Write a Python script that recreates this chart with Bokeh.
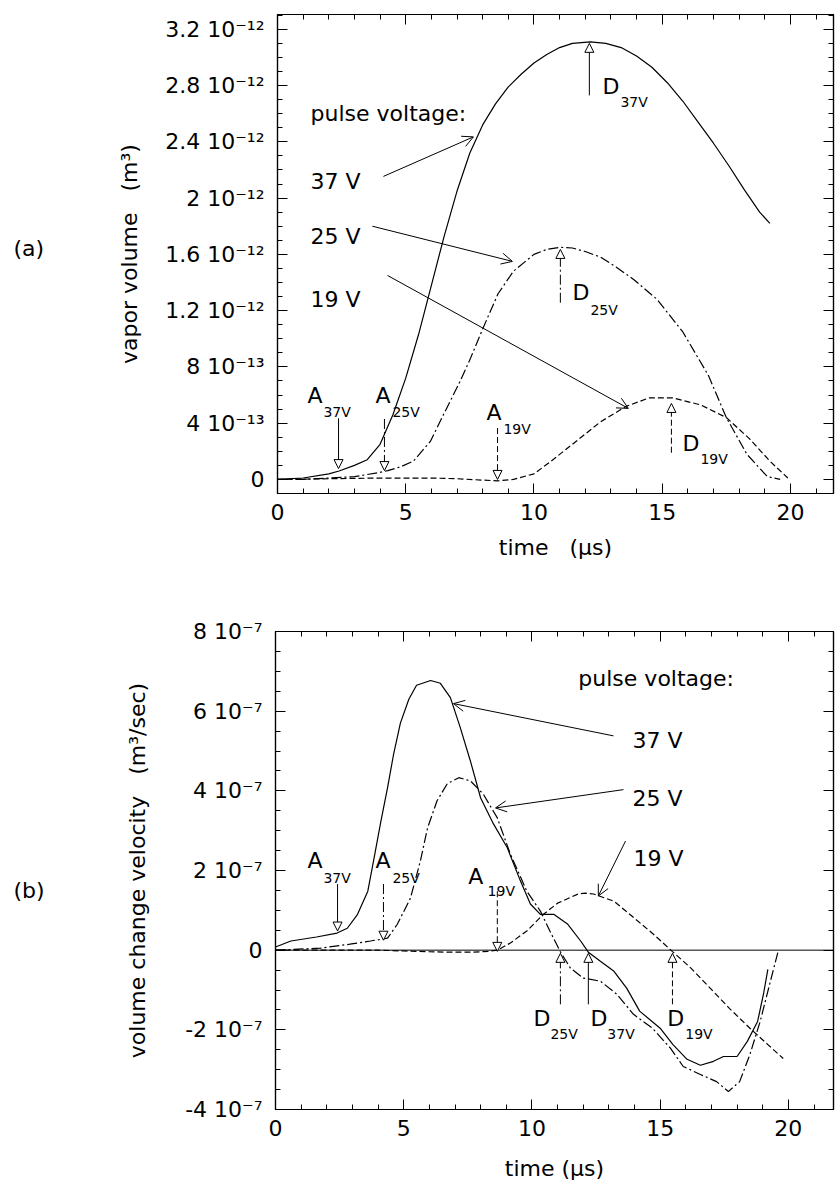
from bokeh.plotting import figure
from bokeh.models import (Label, Arrow, NormalHead, OpenHead, Span, LinearAxis,
                          SingleIntervalTicker, CustomJSTickFormatter, Range1d)
from bokeh.layouts import column, row
from bokeh.core.properties import value
from bokeh.embed import file_html
from bokeh.resources import INLINE

FONT = "DejaVu Sans"

# ---------------- data: panel (a) vapor volume, units of 1e-12 m^3 ----------------
t37_a = [0, 1, 2, 2.4, 3, 3.5, 4, 4.5, 5, 5.5, 6, 6.5, 7, 7.5, 8, 8.5, 9, 9.5, 10,
         10.5, 11, 11.5, 12.2, 12.8, 13.4, 14, 14.6, 15.2, 15.8, 16.4, 17, 17.6, 18.2,
         18.8, 19.2]
v37_a = [0.0, 0.01, 0.04, 0.06, 0.10, 0.14, 0.25, 0.46, 0.72, 1.03, 1.38, 1.73, 2.05,
         2.32, 2.52, 2.67, 2.79, 2.88, 2.96, 3.02, 3.07, 3.10, 3.11, 3.10, 3.07, 3.01,
         2.93, 2.82, 2.69, 2.54, 2.39, 2.23, 2.06, 1.90, 1.82]
t25_a = [0, 1, 2, 3, 4, 4.3, 4.8, 5.3, 5.96, 6.47, 7.1, 7.5, 8, 8.6, 9.2, 10, 10.5, 11,
         11.5, 12, 12.6, 13.2, 13.9, 14.8, 15.8, 16.8, 17.5, 18.3, 19.1, 19.6]
v25_a = [0.0, 0.0, 0.01, 0.02, 0.05, 0.063, 0.09, 0.13, 0.27, 0.46, 0.69, 0.85, 1.07,
         1.32, 1.48, 1.60, 1.635, 1.65, 1.645, 1.62, 1.58, 1.51, 1.42, 1.28, 1.05, 0.74,
         0.44, 0.18, 0.02, 0.0]
t19_a = [0, 2, 4, 6, 7, 8, 8.6, 9.2, 10, 10.6, 11.5, 12.6, 13.6, 14.5, 15.4, 16.5,
         17.5, 18.4, 19.2, 19.9]
v19_a = [0.0, 0.005, 0.01, 0.01, 0.005, -0.005, -0.01, 0.0, 0.04, 0.12, 0.25, 0.41,
         0.52, 0.58, 0.58, 0.53, 0.44, 0.29, 0.13, 0.01]

# ---------------- data: panel (b) volume change velocity, units of 1e-7 m^3/s ----------------
t37_b = [0, 0.6, 1.6, 2.4, 2.8, 3.2, 3.6, 3.84, 4.1, 4.37, 4.6, 4.87, 5.2, 5.5, 6.05,
         6.43, 6.82, 7.2, 7.6, 8.0, 8.5, 9.04, 9.55, 9.94, 10.33, 10.85, 11.4, 11.9,
         12.2, 12.67, 13.2, 13.7, 14.2, 15.0, 15.5, 16.05, 16.57, 17.08, 17.47, 18.0,
         18.4, 18.8, 19.03, 19.2]
v37_b = [0.08, 0.23, 0.33, 0.43, 0.55, 0.9, 1.48, 2.3, 3.2, 4.08, 4.9, 5.7, 6.3, 6.65,
         6.77, 6.7, 6.34, 5.6, 4.75, 3.82, 3.17, 2.57, 1.74, 1.16, 0.9, 0.9, 0.65, 0.23,
         -0.05, -0.28, -0.53, -0.96, -1.53, -1.96, -2.37, -2.74, -2.89, -2.79, -2.67,
         -2.67, -2.29, -1.79, -1.1, -0.48]
t25_b = [0, 1.75, 2.9, 3.7, 4.37, 4.75, 5.26, 5.65, 5.93, 6.3, 6.7, 7.15, 7.6, 8.1, 8.65,
         9.16, 9.8, 10.33, 10.7, 11.1, 11.5, 12.0, 12.67, 13.3, 13.96, 14.7, 15.4, 15.9,
         16.57, 17.2, 17.66, 18.1, 18.5, 18.9, 19.3, 19.6]
v25_b = [0.0, 0.05, 0.15, 0.23, 0.3, 0.65, 1.3, 2.24, 3.07, 3.75, 4.18, 4.33, 4.25, 3.92,
         3.32, 2.41, 1.48, 0.98, 0.48, -0.03, -0.45, -0.7, -0.78, -1.1, -1.61, -1.96,
         -2.46, -2.92, -3.12, -3.3, -3.55, -3.3, -2.62, -1.79, -0.78, -0.03]
t19_b = [0, 2, 4, 5, 6, 6.8, 7.7, 8.3, 8.65, 9.16, 9.8, 10.45, 11.0, 11.8, 12.1, 12.4,
         13.2, 14.0, 14.74, 15.47, 16.2, 16.96, 17.7, 18.5, 19.2, 19.8]
v19_b = [0.0, 0.0, 0.0, -0.02, -0.04, -0.05, -0.05, -0.03, 0.0, 0.18, 0.48, 0.9, 1.18,
         1.41, 1.43, 1.41, 1.23, 0.8, 0.4, -0.03, -0.45, -0.96, -1.46, -1.96, -2.37, -2.72]

SUP_JS = """
const sup = {"-":"\u207b","0":"\u2070","1":"\u00b9","2":"\u00b2","3":"\u00b3","4":"\u2074",
             "5":"\u2075","6":"\u2076","7":"\u2077","8":"\u2078","9":"\u2079"};
function s(n){ return String(n).split("").map(c => sup[c]).join(""); }
"""

fmt_a = CustomJSTickFormatter(code=SUP_JS + """
if (Math.abs(tick) < 1e-9) return "0";
let e = Math.floor(Math.log10(Math.abs(tick)) + 1e-9);
let m = Math.round(tick / Math.pow(10, e) * 10) / 10;
return m + " 10" + s(e - 12);
""")
fmt_b = CustomJSTickFormatter(code=SUP_JS + """
if (Math.abs(tick) < 1e-9) return "0";
let m = Math.round(tick * 10) / 10;
return m + " 10" + s(-7);
""")
blank = CustomJSTickFormatter(code='return "";')

DASH25 = "10 3 2 3"
DASH19 = "6 3"


def make_fig(xr, yr, yticker, yfmt, ylabel, xlabel, fw, fh, bl, bt, bb, xls, yls):
    p = figure(frame_width=fw, frame_height=fh, x_range=xr, y_range=yr,
               output_backend="svg", toolbar_location=None,
               min_border_left=bl, min_border_right=2, min_border_top=bt,
               min_border_bottom=bb, background_fill_color="white",
               border_fill_color="white")
    p.xgrid.visible = False
    p.ygrid.visible = False
    p.outline_line_color = "black"
    p.outline_line_width = 1.2
    xt = SingleIntervalTicker(interval=5, num_minor_ticks=5)
    for ax in p.xaxis:
        ax.ticker = xt
        ax.axis_label = xlabel
        ax.major_label_standoff = 10
        ax.axis_label_standoff = xls
    for ax in p.yaxis:
        ax.ticker = yticker
        ax.formatter = yfmt
        ax.axis_label = ylabel
        ax.major_label_standoff = 13
        ax.axis_label_standoff = yls
    for ax in list(p.xaxis) + list(p.yaxis):
        ax.major_tick_in = 10
        ax.major_tick_out = 0
        ax.minor_tick_in = 5
        ax.minor_tick_out = 0
        ax.axis_line_width = 1.2
        ax.major_label_text_font = FONT
        ax.major_label_text_font_size = "22px"
        ax.major_label_text_color = "black"
        ax.axis_label_text_font = FONT
        ax.axis_label_text_font_size = "22px"
        ax.axis_label_text_font_style = "normal"
        ax.axis_label_text_color = "black"
    for loc, tk in (("above", xt), ("right", yticker)):
        ax = LinearAxis(ticker=tk, formatter=blank, major_label_text_font_size="1px",
                        major_label_text_color=None, major_label_standoff=0,
                        major_tick_in=10, major_tick_out=0, minor_tick_in=5,
                        minor_tick_out=0, axis_line_width=1.2)
        p.add_layout(ax, loc)
    return p


def side(text, yr, fh, bt, bb, yv):
    # narrow companion figure with the same vertical geometry as its panel
    f = figure(frame_width=50, frame_height=fh, x_range=Range1d(0, 50), y_range=yr,
               output_backend="svg", toolbar_location=None, min_border_left=0,
               min_border_right=0, min_border_top=bt, min_border_bottom=bb,
               x_axis_type=None, y_axis_type=None, outline_line_color=None,
               background_fill_color="white", border_fill_color="white")
    f.text(x=[13], y=[yv], text=[text], text_font=value(FONT), text_font_size="22px",
           text_baseline="middle", text_align="left", text_color="black")
    return f


def lab(p, x, y, text, size="22px"):
    p.add_layout(Label(x=x, y=y, text=text, text_font=FONT, text_font_size=size,
                       text_baseline="middle", text_align="left", text_color="black"))


def marker(p, x, y0, y1, dash):
    p.add_layout(Arrow(end=NormalHead(size=9, fill_color="white", line_width=1),
                       x_start=x, y_start=y0, x_end=x, y_end=y1,
                       line_width=1, line_dash=dash))


def pointer(p, x0, y0, x1, y1):
    p.add_layout(Arrow(end=OpenHead(size=11, line_width=1),
                       x_start=x0, y_start=y0, x_end=x1, y_end=y1, line_width=1))


NB = "\u00a0"

# ---------------- panel (a) ----------------
yr_a = Range1d(-0.1, 3.305)
pa = make_fig(Range1d(0, 21.68), yr_a,
              SingleIntervalTicker(interval=0.4, num_minor_ticks=4), fmt_a,
              "vapor volume" + NB * 3 + "(m\u00b3)", "time" + NB * 3 + "(\u00b5s)",
              556, 479, 227, 14, 107, 12, 20)
pa.line(t37_a, v37_a, line_color="black", line_width=1.2)
pa.line(t25_a, v25_a, line_color="black", line_width=1.2, line_dash=DASH25)
pa.line(t19_a, v19_a, line_color="black", line_width=1.2, line_dash=DASH19)

lab(pa, 1.29, 2.60, "pulse voltage:")
lab(pa, 1.29, 2.12, "37 V")
lab(pa, 1.29, 1.73, "25 V")
lab(pa, 1.29, 1.28, "19 V")
pointer(pa, 4.13, 2.154, 7.64, 2.435)
pointer(pa, 3.70, 1.80, 9.16, 1.55)
pointer(pa, 4.29, 1.45, 13.68, 0.505)

lab(pa, 1.17, 0.60, "A")
lab(pa, 1.79, 0.48, "37V", "14px")
marker(pa, 2.38, 0.435, 0.077, "solid")
lab(pa, 3.82, 0.60, "A")
lab(pa, 4.48, 0.48, "25V", "14px")
marker(pa, 4.17, 0.43, 0.063, DASH25)
lab(pa, 8.15, 0.477, "A")
lab(pa, 8.81, 0.36, "19V", "14px")
marker(pa, 8.58, 0.365, 0.0, DASH19)

marker(pa, 12.16, 2.73, 3.10, "solid")
lab(pa, 12.67, 2.79, "D")
lab(pa, 13.37, 2.68, "37V", "14px")
marker(pa, 11.03, 1.256, 1.635, DASH25)
lab(pa, 11.5, 1.326, "D")
lab(pa, 12.2, 1.207, "25V", "14px")
marker(pa, 15.36, 0.19, 0.54, DASH19)
lab(pa, 15.79, 0.253, "D")
lab(pa, 16.49, 0.147, "19V", "14px")

# ---------------- panel (b) ----------------
yr_b = Range1d(-4, 8)
pb = make_fig(Range1d(0, 21.76), yr_b,
              SingleIntervalTicker(interval=2, num_minor_ticks=4), fmt_b,
              "volume change velocity" + NB * 3 + "(m\u00b3/sec)", "time (\u00b5s)",
              558, 478, 225, 31, 75, 17, 32)
pb.add_layout(Span(location=0, dimension="width", line_color="black", line_width=1))
pb.line(t37_b, v37_b, line_color="black", line_width=1.2)
pb.line(t25_b, v25_b, line_color="black", line_width=1.2, line_dash=DASH25)
pb.line(t19_b, v19_b, line_color="black", line_width=1.2, line_dash=DASH19)

lab(pb, 11.81, 6.82, "pulse voltage:")
lab(pb, 13.92, 5.26, "37 V")
lab(pb, 13.92, 3.80, "25 V")
lab(pb, 13.96, 2.29, "19 V")
pointer(pb, 13.18, 5.38, 6.94, 6.19)
pointer(pb, 13.57, 4.03, 8.58, 3.57)
pointer(pb, 13.65, 2.74, 12.59, 1.36)

lab(pb, 1.25, 2.24, "A")
lab(pb, 1.87, 1.81, "37V", "14px")
marker(pb, 2.42, 1.66, 0.48, "solid")
lab(pb, 3.9, 2.24, "A")
lab(pb, 4.56, 1.81, "25V", "14px")
marker(pb, 4.21, 1.66, 0.25, DASH25)
lab(pb, 7.52, 1.86, "A")
lab(pb, 8.27, 1.48, "19V", "14px")
marker(pb, 8.65, 1.48, -0.03, DASH19)

marker(pb, 11.11, -1.36, -0.08, DASH25)
lab(pb, 10.06, -1.71, "D")
lab(pb, 10.72, -2.11, "25V", "14px")
marker(pb, 12.2, -1.36, -0.08, "solid")
lab(pb, 12.28, -1.71, "D")
lab(pb, 12.94, -2.11, "37V", "14px")
marker(pb, 15.48, -1.36, -0.08, DASH19)
lab(pb, 15.28, -1.71, "D")
lab(pb, 15.98, -2.11, "19V", "14px")

fa = side("(a)", yr_a, 479, 14, 107, 1.64)
fb = side("(b)", yr_b, 478, 31, 75, 1.51)

layout = column(row(fa, pa, spacing=0), row(fb, pb, spacing=0), spacing=0)
open("out.html", "w").write(file_html(layout, INLINE))
